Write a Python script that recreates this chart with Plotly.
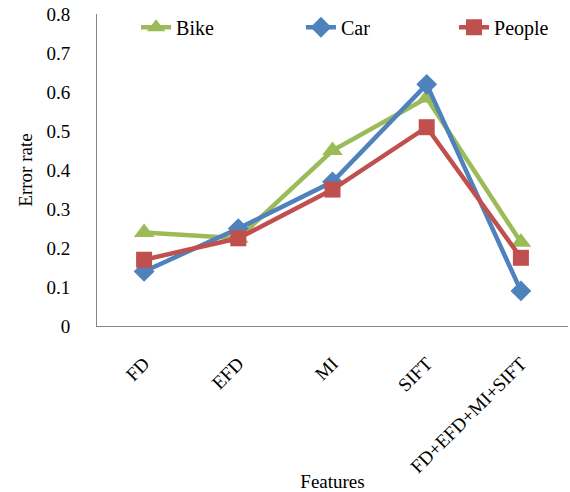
import plotly.graph_objects as go

categories = ["FD", "EFD", "MI", "SIFT", "FD+EFD+MI+SIFT"]
bike = [0.24, 0.225, 0.45, 0.585, 0.215]
car = [0.14, 0.25, 0.37, 0.62, 0.09]
people = [0.17, 0.225, 0.35, 0.51, 0.175]
y_ticks = [0, 0.1, 0.2, 0.3, 0.4, 0.5, 0.6, 0.7, 0.8]
y_tick_labels = ["0", "0.1", "0.2", "0.3", "0.4", "0.5", "0.6", "0.7", "0.8"]

series = [
    ("Bike", bike, "#9BBB59", "triangle-up", 18, "legend", 0.083),
    ("Car", car, "#4F81BD", "diamond", 16, "legend2", 0.433),
    ("People", people, "#C0504D", "square", 16, "legend3", 0.758),
]

FONT = "Liberation Serif, Times New Roman, serif"

fig = go.Figure()
legends = {}
for name, vals, col, sym, sz, lg, lx in series:
    fig.add_trace(go.Scatter(
        x=categories, y=vals, name=name, mode="lines+markers",
        line=dict(color=col, width=4.5),
        marker=dict(symbol=sym, size=sz, color=col),
        legend=lg,
    ))
    legends[lg] = dict(x=lx, y=1.02, xanchor="left", yanchor="top",
                       font=dict(size=20, family=FONT, color="black"),
                       bgcolor="rgba(0,0,0,0)")

fig.update_layout(
    width=570, height=492,
    margin=dict(l=97, r=2, t=14, b=166),
    paper_bgcolor="white", plot_bgcolor="white",
    font=dict(family=FONT, size=19, color="black"),
    showlegend=True,
    **legends,
    xaxis=dict(showgrid=False, showline=True, linecolor="#868686", linewidth=1,
               tickangle=-45, ticks="", tickfont=dict(size=19, family=FONT),
               ticklabelstandoff=18, automargin=False,
               title=dict(text="Features", font=dict(size=19, family=FONT), standoff=8),
               range=[-0.5, 4.5]),
    yaxis=dict(showgrid=False, showline=True, linecolor="#868686", linewidth=1,
               range=[0, 0.8005], tickvals=y_ticks, ticktext=y_tick_labels,
               ticks="", tickfont=dict(size=19, family=FONT),
               zeroline=False, ticklabelstandoff=22, automargin=False,
               title=dict(text="Error rate", font=dict(size=19, family=FONT), standoff=8)),
)
fig.write_html("out.html", config={"displayModeBar": False},
               post_script="document.body.style.margin='0';")
